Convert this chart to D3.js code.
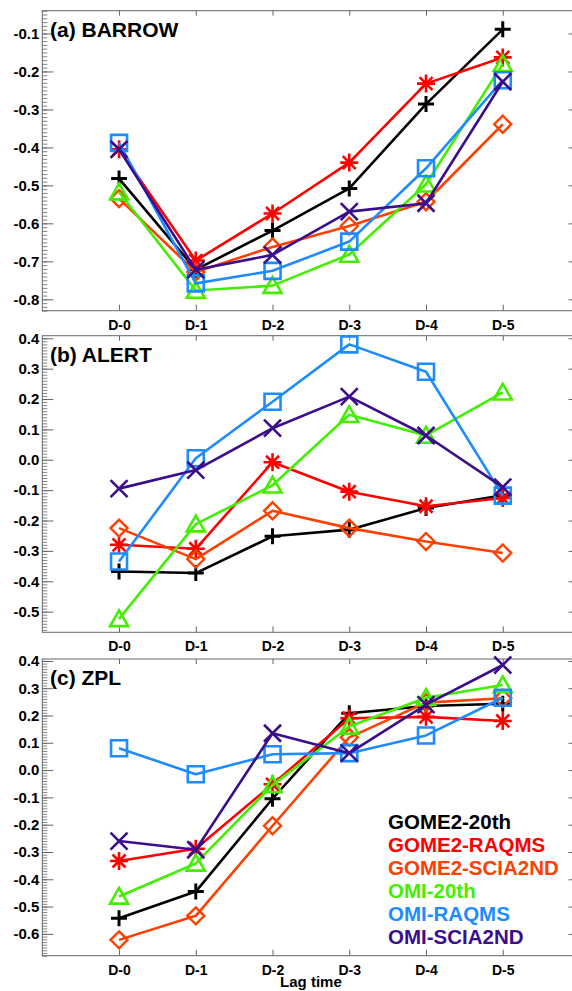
<!DOCTYPE html>
<html>
<head>
<meta charset="utf-8">
<script src="https://cdn.jsdelivr.net/npm/d3@7/dist/d3.min.js"></script>
<style>
  html, body { margin: 0; padding: 0; background: #fff; }
  svg { display: block; }
  text { font-family: "Liberation Sans", Arial, Helvetica, sans-serif; font-weight: bold; }
</style>
</head>
<body>
<svg id="chart" width="572" height="991"></svg>
<script>
// ---------------- DATA ----------------
const categories = ["D-0", "D-1", "D-2", "D-3", "D-4", "D-5"];
const seriesNames = ["GOME2-20th", "GOME2-RAQMS", "GOME2-SCIA2ND", "OMI-20th", "OMI-RAQMS", "OMI-SCIA2ND"];
const seriesColors = ["#000000", "#ff0000", "#ff4000", "#44ee00", "#1e8cff", "#3a0e8c"];
const seriesMarkers = ["plus", "asterisk", "diamond", "triangle", "square", "cross"];
const panelTitles = ["(a) BARROW", "(b) ALERT", "(c) ZPL"];

// (a) BARROW
const barrowGome2_20th   = [-0.482, -0.722, -0.619, -0.508, -0.286, -0.089];
const barrowGome2_RAQMS  = [-0.405, -0.698, -0.574, -0.440, -0.232, -0.163];
const barrowGome2_SCIA   = [-0.535, -0.728, -0.662, -0.607, -0.543, -0.339];
const barrowOmi_20th     = [-0.518, -0.777, -0.764, -0.682, -0.497, -0.180];
const barrowOmi_RAQMS    = [-0.388, -0.758, -0.725, -0.648, -0.455, -0.223];
const barrowOmi_SCIA     = [-0.405, -0.722, -0.683, -0.569, -0.547, -0.227];

// (b) ALERT
const alertGome2_20th    = [-0.368, -0.373, -0.252, -0.230, -0.159, -0.117];
const alertGome2_RAQMS   = [-0.280, -0.293, -0.008, -0.105, -0.153, -0.126];
const alertGome2_SCIA    = [-0.225, -0.327, -0.168, -0.225, -0.269, -0.307];
const alertOmi_20th      = [-0.524, -0.212, -0.084, 0.148, 0.080, 0.222];
const alertOmi_RAQMS     = [-0.335, 0.005, 0.191, 0.380, 0.290, -0.118];
const alertOmi_SCIA      = [-0.095, -0.034, 0.104, 0.208, 0.080, -0.090];

// (c) ZPL
const zplGome2_20th      = [-0.543, -0.445, -0.105, 0.208, 0.235, 0.243];
const zplGome2_RAQMS     = [-0.333, -0.288, -0.052, 0.190, 0.195, 0.180];
const zplGome2_SCIA      = [-0.622, -0.534, -0.204, 0.120, 0.247, 0.263];
const zplOmi_20th        = [-0.463, -0.342, -0.055, 0.160, 0.265, 0.312];
const zplOmi_RAQMS       = [0.080, -0.015, 0.058, 0.062, 0.127, 0.265];
const zplOmi_SCIA        = [-0.260, -0.292, 0.135, 0.062, 0.240, 0.385];

// y tick labels for each panel
const barrowTicks = ["-0.8", "-0.7", "-0.6", "-0.5", "-0.4", "-0.3", "-0.2", "-0.1"];
const alertTicks  = ["-0.5", "-0.4", "-0.3", "-0.2", "-0.1", "0.0", "0.1", "0.2", "0.3", "0.4"];
const zplTicks    = ["-0.6", "-0.5", "-0.4", "-0.3", "-0.2", "-0.1", "0.0", "0.1", "0.2", "0.3", "0.4"];
const xTitle = "Lag time";

// ---------------- LAYOUT ----------------
const panels = [
  { title: panelTitles[0], series: [barrowGome2_20th, barrowGome2_RAQMS, barrowGome2_SCIA, barrowOmi_20th, barrowOmi_RAQMS, barrowOmi_SCIA],
    ticks: barrowTicks, domain: [-0.83, -0.04], top: 10.7, bottom: 310.7 },
  { title: panelTitles[1], series: [alertGome2_20th, alertGome2_RAQMS, alertGome2_SCIA, alertOmi_20th, alertOmi_RAQMS, alertOmi_SCIA],
    ticks: alertTicks, domain: [-0.568, 0.4085], top: 335.7, bottom: 632.3 },
  { title: panelTitles[2], series: [zplGome2_20th, zplGome2_RAQMS, zplGome2_SCIA, zplOmi_20th, zplOmi_RAQMS, zplOmi_SCIA],
    ticks: zplTicks, domain: [-0.68, 0.407], top: 659, bottom: 955.7 }
];

const left = 42.3, right = 579.5;
const frameColor = "#666";
const svg = d3.select("#chart");

const x = d3.scaleLinear().domain([-1, 6]).range([left, right]);

function markerPath(type, s) {
  const h = s / 2;
  switch (type) {
    case "plus": return `M${-h},0H${h}M0,${-h}V${h}`;
    case "cross": return `M${-h},${-h}L${h},${h}M${-h},${h}L${h},${-h}`;
    case "asterisk": {
      const d = h * 0.72;
      return `M0,${-h}V${h}M${-h},0H${h}M${-d},${-d}L${d},${d}M${-d},${d}L${d},${-d}`;
    }
    case "square": return `M${-h},${-h}H${h}V${h}H${-h}Z`;
    case "diamond": return `M0,${-h}L${h},0L0,${h}L${-h},0Z`;
    case "triangle": return `M0,${-h*0.95}L${h},${h*0.8}L${-h},${h*0.8}Z`;
  }
}
const markerSize = { plus: 16, cross: 17, asterisk: 18, square: 16, diamond: 17, triangle: 18 };
const markerStroke = { plus: 3, cross: 2.6, asterisk: 2.6, square: 2.6, diamond: 2.4, triangle: 2.6 };

panels.forEach((p, pi) => {
  const y = d3.scaleLinear().domain(p.domain).range([p.bottom, p.top]);
  const g = svg.append("g");
  const tickVals = p.ticks.map(t => +t);
  const fmt = v => p.ticks[tickVals.findIndex(t => Math.abs(t - v) < 1e-9)];

  // minor ticks left
  const minor = d3.range(Math.ceil(p.domain[0] * 100), Math.floor(p.domain[1] * 100) + 1).map(v => v / 100);
  g.append("g").attr("transform", `translate(${left},0)`)
    .call(d3.axisLeft(y).tickValues(minor).tickSize(-5).tickFormat(""))
    .call(a => a.select(".domain").remove())
    .call(a => a.selectAll("line").attr("stroke", frameColor).attr("stroke-width", 0.8));
  // major ticks left with labels
  g.append("g").attr("transform", `translate(${left},0)`)
    .call(d3.axisLeft(y).tickValues(tickVals).tickSize(-11).tickPadding(3).tickFormat(fmt))
    .call(a => a.select(".domain").remove())
    .call(a => a.selectAll("line").attr("stroke", frameColor))
    .call(a => a.selectAll("text").attr("font-size", 15).attr("fill", "#000")
      .style("font-family", '"Liberation Sans", Arial, sans-serif').style("font-weight", "bold"));
  // right ticks
  g.append("g").attr("transform", `translate(${right},0)`)
    .call(d3.axisRight(y).tickValues(tickVals).tickSize(-11).tickFormat(""))
    .call(a => a.select(".domain").remove())
    .call(a => a.selectAll("line").attr("stroke", frameColor));
  // top ticks
  g.append("g").attr("transform", `translate(0,${p.top})`)
    .call(d3.axisTop(x).tickValues(d3.range(categories.length)).tickSize(-5).tickFormat(""))
    .call(a => a.select(".domain").remove())
    .call(a => a.selectAll("line").attr("stroke", frameColor));
  // bottom ticks with labels
  g.append("g").attr("transform", `translate(0,${p.bottom})`)
    .call(d3.axisBottom(x).tickValues(d3.range(categories.length)).tickSize(-6).tickPadding(9).tickFormat(i => categories[i]))
    .call(a => a.select(".domain").remove())
    .call(a => a.selectAll("line").attr("stroke", frameColor))
    .call(a => a.selectAll("text").attr("font-size", 14).attr("fill", "#000")
      .style("font-family", '"Liberation Sans", Arial, sans-serif').style("font-weight", "bold"));

  // frame
  g.append("rect").attr("x", left).attr("y", p.top)
    .attr("width", right - left).attr("height", p.bottom - p.top)
    .attr("fill", "none").attr("stroke", frameColor).attr("stroke-width", 1);

  // title
  g.append("text").attr("x", 50).attr("y", p.top + 26)
    .attr("font-size", 21).attr("fill", "#000").text(p.title);

  // series
  const clipId = "clip" + pi;
  svg.append("clipPath").attr("id", clipId).append("rect")
    .attr("x", left).attr("y", p.top - 12).attr("width", right - left).attr("height", p.bottom - p.top + 24);
  const sg = g.append("g").attr("clip-path", `url(#${clipId})`);
  const line = d3.line().x((d, i) => x(i)).y(d => y(d));
  p.series.forEach((vals, si) => {
    const col = seriesColors[si];
    sg.append("path").datum(vals).attr("d", line)
      .attr("fill", "none").attr("stroke", col).attr("stroke-width", 2.6).attr("stroke-linejoin", "round");
    const m = seriesMarkers[si];
    sg.selectAll(null).data(vals).enter().append("path")
      .attr("transform", (d, i) => `translate(${x(i)},${y(d)})`)
      .attr("d", markerPath(m, markerSize[m]))
      .attr("fill", "none").attr("stroke", col).attr("stroke-width", markerStroke[m]);
  });
});

// legend
const legendG = svg.append("g");
seriesNames.forEach((n, i) => {
  legendG.append("text").attr("x", 388).attr("y", 829 + i * 23)
    .attr("font-size", 20.5).attr("fill", seriesColors[i]).text(n);
});

// x title
svg.append("text").attr("x", (left + right) / 2).attr("y", 987).attr("text-anchor", "middle")
  .attr("font-size", 15).attr("fill", "#000").text(xTitle);
</script>
</body>
</html>
